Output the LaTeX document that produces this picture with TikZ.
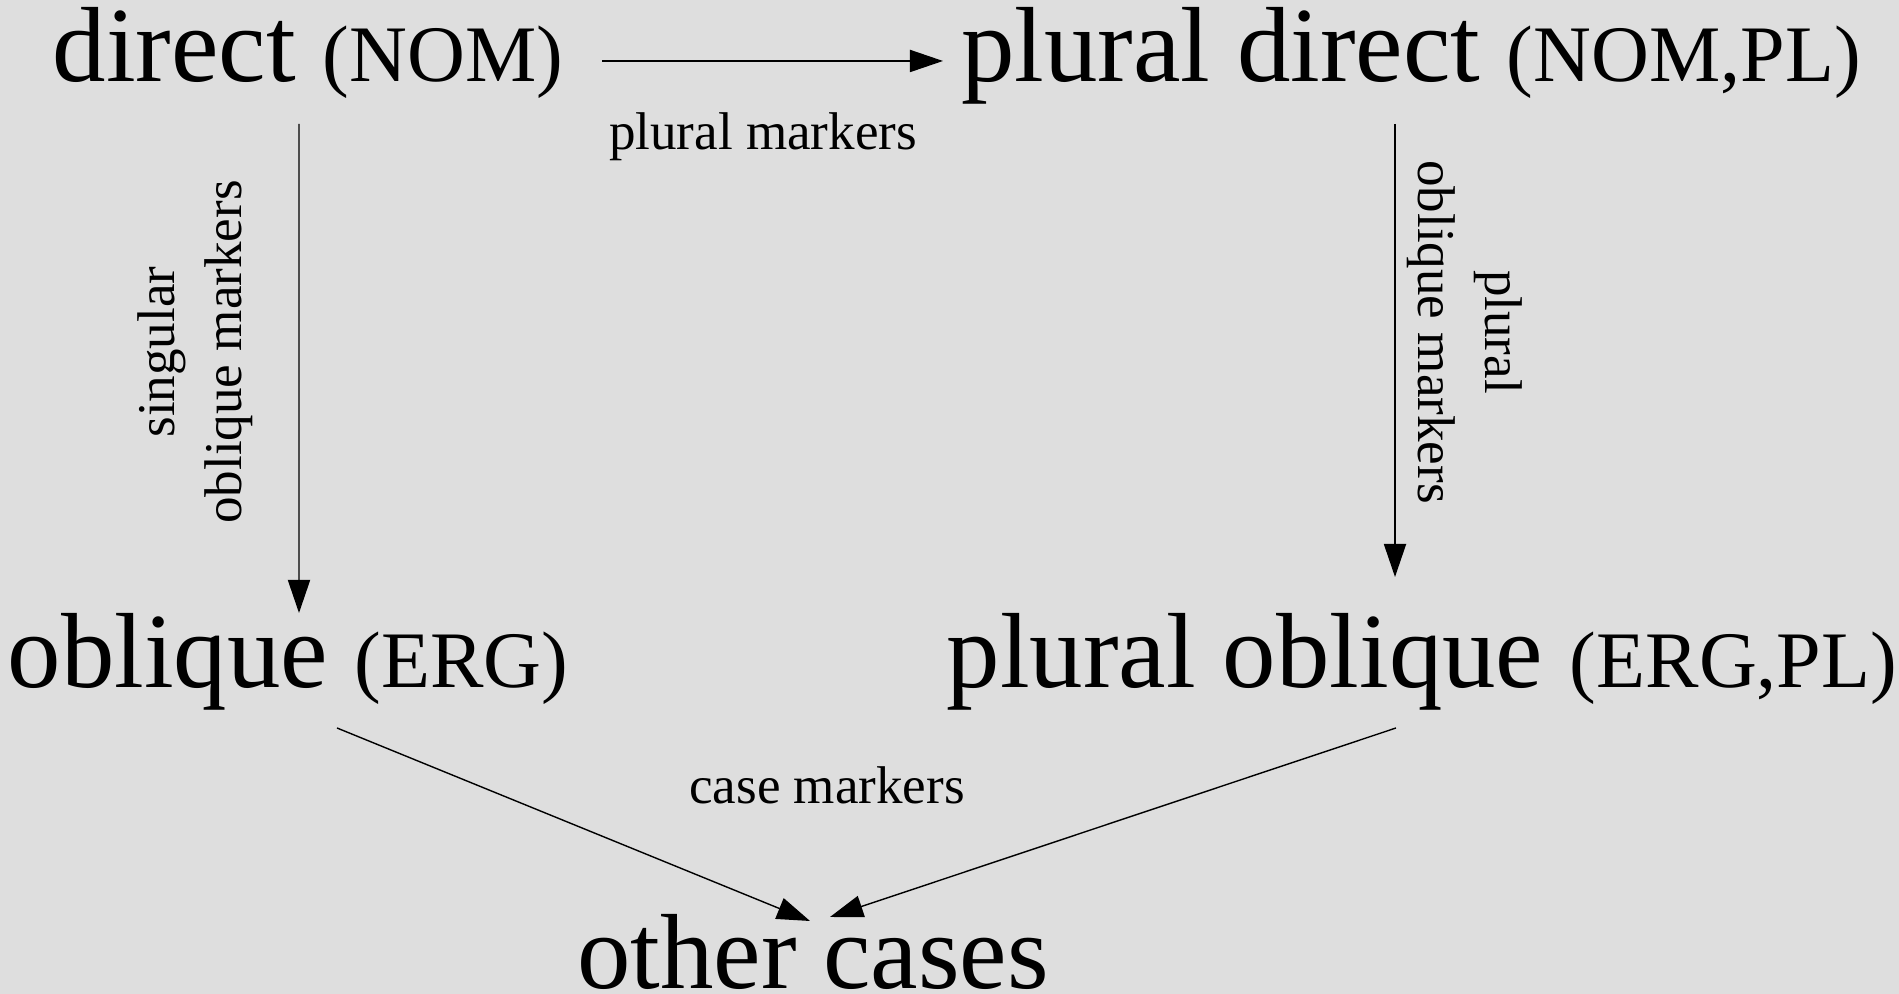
\documentclass[tikz,border=0pt]{standalone}
\usepackage{fontspec}
\setmainfont{Liberation Serif}
\usepackage{tikz}
\usetikzlibrary{arrows.meta, positioning, calc}
\definecolor{canvas}{HTML}{DEDEDE}
\definecolor{ink}{HTML}{000000}

\newcommand{\glossabbr}[1]{{\fontsize{22.8}{27}\selectfont(#1)}}

\tikzset{
  casenode/.style={inner sep=0pt, anchor=base, text=ink, font=\fontsize{30.4}{36}\selectfont},
  marklabel/.style={inner sep=0pt, text=ink, align=center, font=\fontsize{15.1}{19}\selectfont},
  arr/.style={draw=ink, line width=0.4pt, -{Triangle[length=9.4pt,width=6.3pt]}}
}

\begin{document}
\begin{tikzpicture}
  \fill[canvas] (0,0) rectangle (18.99,9.94);
  \useasboundingbox (0,0) rectangle (18.99,9.94);

  % case forms
  \node[casenode] (direct) at (3.08,9.12) {direct \glossabbr{NOM}};
  \node[casenode] (pdirect) at (14.11,9.12) {plural direct \glossabbr{NOM,PL}};
  \node[casenode] (oblique) at (2.88,3.06) {oblique \glossabbr{ERG}};
  \node[casenode] (poblique) at (14.22,3.06) {plural oblique \glossabbr{ERG,PL}};
  \node[casenode] (other) at (8.13,0.05) {other cases};

  % markers
  \draw[arr] ($(direct.base)+(2.94,0.21)$) -- ($(pdirect.base)+(-4.68,0.21)$);
  \draw[arr] ($(direct.base)+(-0.09,-0.42)$) -- ($(oblique.base)+(0.11,0.75)$);
  \draw[arr] ($(pdirect.base)+(-0.16,-0.42)$) -- ($(poblique.base)+(-0.27,1.11)$);
  \draw[arr] ($(oblique.base)+(0.49,-0.40)$) -- ($(other.base)+(-0.03,0.68)$);
  \draw[arr] ($(poblique.base)+(-0.26,-0.40)$) -- ($(other.base)+(0.17,0.72)$);

  \node[marklabel, anchor=base] (lplural) at (7.63,8.44) {plural markers};
  \node[marklabel, rotate=90] (lsing) at (1.95,6.42) {singular\\oblique markers};
  \node[marklabel, rotate=-90] (lpobl) at (14.65,6.62) {plural\\oblique markers};
  \node[marklabel, anchor=base] (lcase) at (8.27,1.90) {case markers};
\end{tikzpicture}
\end{document}
